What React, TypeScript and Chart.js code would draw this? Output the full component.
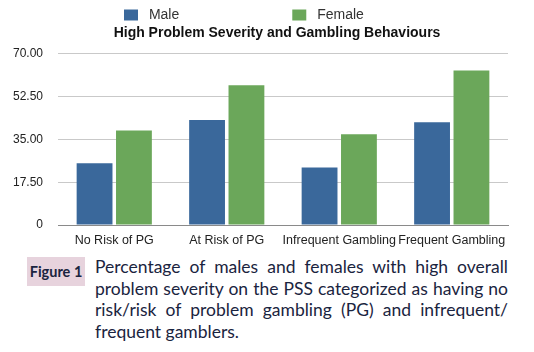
import React, { useEffect, useRef } from "react";
import { Chart, registerables } from "chart.js";

Chart.register(...registerables);

const categories = ["No Risk of PG", "At Risk of PG", "Infrequent Gambling", "Frequent Gambling"];
const maleValues = [25.2, 42.9, 23.5, 42.0];
const femaleValues = [38.6, 57.1, 37.1, 63.2];
const seriesNames = ["Male", "Female"];
const yMin = 0;
const yMax = 70;
const yStep = 17.5;
const chartTitle = "High Problem Severity and Gambling Behaviours";
const figureLabel = "Figure 1";
const captionLines = [
  "Percentage of males and females with high overall",
  "problem severity on the PSS categorized as having no",
  "risk/risk of problem gambling (PG) and infrequent/",
  "frequent gamblers.",
];

const FONT = "'Liberation Sans', Arial, Helvetica, sans-serif";
const legendTrail = [27, 17];

export default function App() {
  const ref = useRef<HTMLCanvasElement | null>(null);

  useEffect(() => {
    document.body.style.margin = "0";
    const canvas = ref.current;
    if (!canvas) return;
    const chart = new Chart(canvas, {
      type: "bar",
      data: {
        labels: categories,
        datasets: [
          {
            label: seriesNames[0],
            data: maleValues,
            backgroundColor: "#3a689b",
            borderWidth: 0,
            categoryPercentage: 0.7,
            barPercentage: 0.91,
          },
          {
            label: seriesNames[1],
            data: femaleValues,
            backgroundColor: "#6ba75a",
            borderWidth: 0,
            categoryPercentage: 0.7,
            barPercentage: 0.91,
          },
        ],
      },
      options: {
        responsive: false,
        animation: false,
        layout: { padding: { top: 0, bottom: 4, left: 0, right: 0 } },
        plugins: {
          tooltip: { enabled: false },
          legend: {
            position: "top",
            weight: 3000,
            maxHeight: 23,
            labels: {
              boxWidth: 14,
              boxHeight: 11,
              padding: 8,
              color: "#333",
              font: { family: FONT, size: 14 },
              generateLabels: (c: any) => {
                const items = (Chart.defaults.plugins.legend.labels as any).generateLabels(c);
                return items.map((it: any, i: number) => ({
                  ...it,
                  lineWidth: 0,
                  text: " " + it.text + " ".repeat(legendTrail[i] || 0),
                }));
              },
            },
          } as any,
          title: {
            display: true,
            text: chartTitle,
            color: "#111",
            weight: 2000,
            font: { family: FONT, size: 14, weight: "bold" },
            padding: { top: 2, bottom: 12 },
          } as any,
        },
        scales: {
          x: {
            afterFit: (s: any) => {
              s.height = 23;
            },
            grid: { display: false, drawTicks: false },
            border: { display: true, color: "#8a8a8a", width: 1 },
            ticks: {
              color: "#222",
              padding: 8,
              maxRotation: 0,
              minRotation: 0,
              autoSkip: false,
              font: { family: FONT, size: 12.5 },
            },
          },
          y: {
            min: yMin,
            max: yMax,
            afterFit: (s: any) => {
              s.width = 58;
            },
            grid: {
              drawTicks: false,
              color: (ctx: any) => (ctx.tick && ctx.tick.value === 0 ? "#8a8a8a" : "#c9c9c9"),
              lineWidth: 1,
            },
            border: { display: false },
            ticks: {
              stepSize: yStep,
              padding: 15,
              color: "#222",
              font: { family: FONT, size: 12 },
              callback: (v: any) => (Number(v) === 0 ? "0" : Number(v).toFixed(2)),
            },
          },
          y2: {
            type: "linear",
            position: "right",
            display: true,
            afterFit: (s: any) => {
              s.width = 46;
            },
            grid: { display: false, drawTicks: false },
            border: { display: false },
            ticks: { display: false },
          },
        },
      } as any,
    });
    return () => chart.destroy();
  }, []);

  return (
    <div style={{ position: "relative", width: 534, height: 352, overflow: "hidden", background: "#fff" }}>
      <canvas ref={ref} width={554} height={252} style={{ position: "absolute", left: 0, top: 0, width: 554, height: 252 }} />
      <div
        style={{
          position: "absolute",
          left: 27,
          top: 257,
          width: 58,
          height: 29,
          background: "#e7d3dd",
          color: "#1a2440",
          fontFamily: "Lato, 'Open Sans', sans-serif",
          fontWeight: 700,
          fontSize: 14.5,
          lineHeight: "29px",
          textAlign: "center",
        }}
      >
        {figureLabel}
      </div>
      <div
        style={{
          position: "absolute",
          left: 95,
          top: 256,
          width: 413,
          color: "#1a2440",
          fontFamily: "Lato, 'Open Sans', sans-serif",
          fontSize: 17.5,
          lineHeight: "21.7px",
        }}
      >
        {captionLines.map((line, i) => (
          <div
            key={i}
            style={{
              whiteSpace: "nowrap",
              textAlign: i < captionLines.length - 1 ? "justify" : "left",
              textAlignLast: i < captionLines.length - 1 ? "justify" : "left",
            }}
          >
            {line}
          </div>
        ))}
      </div>
    </div>
  );
}
